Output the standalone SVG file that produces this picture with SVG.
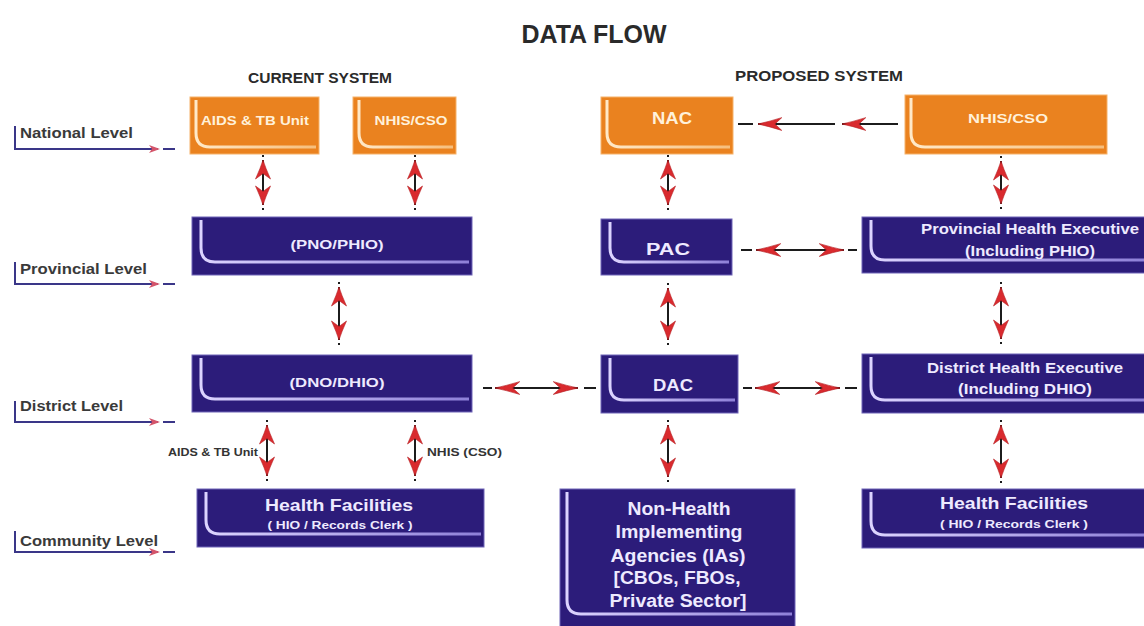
<svg xmlns="http://www.w3.org/2000/svg" xmlns:xlink="http://www.w3.org/1999/xlink" width="1144" height="626" viewBox="0 0 1144 626">
<defs>
<style>
text{font-family:"Liberation Sans",Arial,sans-serif;font-weight:bold}
.ttl{fill:#2a2a2a}
.lvl{fill:#3a3a3a;font-size:14px}
.clab{fill:#333;font-size:11px}
.or{fill:#EA821F;stroke:#F6B26A;stroke-width:1}
.nv{fill:#2C1C7A;stroke:#6F64B8;stroke-width:1}
.hlo{fill:none;stroke:url(#gO);stroke-width:3}
.hln{fill:none;stroke:url(#gN);stroke-width:3}
.to{fill:#FFF1DA;text-anchor:middle}
.tn{fill:#EEEAFF;text-anchor:middle}
.ln{stroke:#1c1c1c;stroke-width:2;fill:none}
.ah{fill:#D92A2E;stroke:#B51E22;stroke-width:0.6}
.br{fill:none;stroke:#3A3688;stroke-width:2}
.bra{fill:#D4546A}
</style>
<linearGradient id="gO" x1="0" y1="0" x2="1" y2="0">
<stop offset="0" stop-color="#FFE9C8"/>
<stop offset="1" stop-color="#F6BE7C"/>
</linearGradient>
<linearGradient id="gN" x1="0" y1="0" x2="1" y2="0">
<stop offset="0" stop-color="#DCD4FF"/>
<stop offset="1" stop-color="#8E80D8"/>
</linearGradient>
<path id="ah" d="M0,0 Q2.5,8 7.5,19 L0,13.5 L-7.5,19 Q-2.5,8 0,0 Z"/>
</defs>
<rect width="1144" height="626" fill="#ffffff"/>

<text class="ttl" x="594" y="43" font-size="25" text-anchor="middle" textLength="145" lengthAdjust="spacingAndGlyphs">DATA FLOW</text>
<text class="ttl" x="320" y="83" font-size="14" text-anchor="middle" textLength="144" lengthAdjust="spacingAndGlyphs">CURRENT SYSTEM</text>
<text class="ttl" x="819" y="81" font-size="14" text-anchor="middle" textLength="168" lengthAdjust="spacingAndGlyphs">PROPOSED SYSTEM</text>

<g id="levels">
<g id="lvl-national">
<path class="br" d="M15,126 V149 H158"/><path class="bra" d="M149,145 L160,149 L149,153 L152,149 Z"/><path class="br" d="M163,149 H175"/>
<text class="lvl" x="20" y="138" textLength="113" lengthAdjust="spacingAndGlyphs">National Level</text>
</g>
<g id="lvl-provincial">
<path class="br" d="M15,262 V284 H158"/><path class="bra" d="M149,280 L160,284 L149,288 L152,284 Z"/><path class="br" d="M163,284 H175"/>
<text class="lvl" x="20" y="274" textLength="127" lengthAdjust="spacingAndGlyphs">Provincial Level</text>
</g>
<g id="lvl-district">
<path class="br" d="M15,401 V422 H158"/><path class="bra" d="M149,418 L160,422 L149,426 L152,422 Z"/><path class="br" d="M163,422 H175"/>
<text class="lvl" x="20" y="411" textLength="103" lengthAdjust="spacingAndGlyphs">District Level</text>
</g>
<g id="lvl-community">
<path class="br" d="M15,531 V552 H158"/><path class="bra" d="M149,548 L160,552 L149,556 L152,552 Z"/><path class="br" d="M163,552 H175"/>
<text class="lvl" x="20" y="546" textLength="138" lengthAdjust="spacingAndGlyphs">Community Level</text>
</g>
</g>

<g id="connectors">
<!-- vertical -->
<line class="ln" x1="263" y1="155" x2="263" y2="210" stroke-dasharray="2 3 45 3 2"/>
<use href="#ah" class="ah" transform="translate(263,160)"/><use href="#ah" class="ah" transform="translate(263,205) rotate(180)"/>
<line class="ln" x1="415" y1="155" x2="415" y2="210" stroke-dasharray="2 3 45 3 2"/>
<use href="#ah" class="ah" transform="translate(415,160)"/><use href="#ah" class="ah" transform="translate(415,205) rotate(180)"/>
<line class="ln" x1="668" y1="155" x2="668" y2="210" stroke-dasharray="2 3 45 3 2"/>
<use href="#ah" class="ah" transform="translate(668,160)"/><use href="#ah" class="ah" transform="translate(668,205) rotate(180)"/>
<line class="ln" x1="1001" y1="156" x2="1001" y2="209" stroke-dasharray="2 3 43 3 2"/>
<use href="#ah" class="ah" transform="translate(1001,161)"/><use href="#ah" class="ah" transform="translate(1001,204) rotate(180)"/>

<line class="ln" x1="339" y1="282" x2="339" y2="345" stroke-dasharray="2 3 53 3 2"/>
<use href="#ah" class="ah" transform="translate(339,287)"/><use href="#ah" class="ah" transform="translate(339,340) rotate(180)"/>
<line class="ln" x1="668" y1="283" x2="668" y2="345" stroke-dasharray="2 3 52 3 2"/>
<use href="#ah" class="ah" transform="translate(668,288)"/><use href="#ah" class="ah" transform="translate(668,340) rotate(180)"/>
<line class="ln" x1="1001" y1="282" x2="1001" y2="344" stroke-dasharray="2 3 52 3 2"/>
<use href="#ah" class="ah" transform="translate(1001,287)"/><use href="#ah" class="ah" transform="translate(1001,339) rotate(180)"/>

<line class="ln" x1="267" y1="420" x2="267" y2="481" stroke-dasharray="2 3 51 3 2"/>
<use href="#ah" class="ah" transform="translate(267,425)"/><use href="#ah" class="ah" transform="translate(267,476) rotate(180)"/>
<line class="ln" x1="415" y1="420" x2="415" y2="481" stroke-dasharray="2 3 51 3 2"/>
<use href="#ah" class="ah" transform="translate(415,425)"/><use href="#ah" class="ah" transform="translate(415,476) rotate(180)"/>
<line class="ln" x1="668" y1="420" x2="668" y2="482" stroke-dasharray="2 3 52 3 2"/>
<use href="#ah" class="ah" transform="translate(668,425)"/><use href="#ah" class="ah" transform="translate(668,477) rotate(180)"/>
<line class="ln" x1="1001" y1="420" x2="1001" y2="483" stroke-dasharray="2 3 53 3 2"/>
<use href="#ah" class="ah" transform="translate(1001,425)"/><use href="#ah" class="ah" transform="translate(1001,478) rotate(180)"/>

<!-- horizontal -->
<path class="ln" d="M738,124 H753 M758,124 H835 M842,124 H898"/>
<use href="#ah" class="ah" transform="translate(758,124) rotate(-90) scale(0.85,1.25)"/>
<use href="#ah" class="ah" transform="translate(842,124) rotate(-90) scale(0.85,1.25)"/>

<path class="ln" d="M741,250 H752 M756,250 H844 M848,250 H857"/>
<use href="#ah" class="ah" transform="translate(756,250) rotate(-90) scale(0.85,1.3)"/>
<use href="#ah" class="ah" transform="translate(844,250) rotate(90) scale(0.85,1.3)"/>

<path class="ln" d="M483,388 H492 M495,388 H578 M584,388 H596"/>
<use href="#ah" class="ah" transform="translate(495,388) rotate(-90) scale(0.85,1.3)"/>
<use href="#ah" class="ah" transform="translate(578,388) rotate(90) scale(0.85,1.3)"/>

<path class="ln" d="M743,388 H752 M755,388 H840 M845,388 H857"/>
<use href="#ah" class="ah" transform="translate(755,388) rotate(-90) scale(0.85,1.3)"/>
<use href="#ah" class="ah" transform="translate(840,388) rotate(90) scale(0.85,1.3)"/>

<text class="clab" x="258" y="456" text-anchor="end" textLength="90" lengthAdjust="spacingAndGlyphs">AIDS &amp; TB Unit</text>
<text class="clab" x="427" y="456" textLength="75" lengthAdjust="spacingAndGlyphs">NHIS (CSO)</text>
</g>

<g id="node-aids">
<rect class="or" x="190" y="97" width="129" height="57"/>
<path class="hlo" d="M196,100 V133 Q196,147 210,147 H316"/>
<text class="to" x="255" y="125" font-size="13" textLength="108" lengthAdjust="spacingAndGlyphs">AIDS &amp; TB Unit</text>
</g>
<g id="node-nhis-current">
<rect class="or" x="353" y="97" width="103" height="57"/>
<path class="hlo" d="M359,100 V133 Q359,147 373,147 H453"/>
<text class="to" x="411" y="125" font-size="13" textLength="73" lengthAdjust="spacingAndGlyphs">NHIS/CSO</text>
</g>
<g id="node-nac">
<rect class="or" x="601" y="97" width="132" height="57"/>
<path class="hlo" d="M607,100 V133 Q607,147 621,147 H730"/>
<text class="to" x="672" y="124" font-size="16" textLength="40" lengthAdjust="spacingAndGlyphs">NAC</text>
</g>
<g id="node-nhis-proposed">
<rect class="or" x="905" y="95" width="202" height="59"/>
<path class="hlo" d="M911,98 V133 Q911,147 925,147 H1104"/>
<text class="to" x="1008" y="123" font-size="13" textLength="80" lengthAdjust="spacingAndGlyphs">NHIS/CSO</text>
</g>

<g id="node-pno">
<rect class="nv" x="192" y="217" width="280" height="58"/>
<path class="hln" d="M201,220 V248 Q201,262 215,262 H469"/>
<text class="tn" x="337" y="249" font-size="13" textLength="93" lengthAdjust="spacingAndGlyphs">(PNO/PHIO)</text>
</g>
<g id="node-pac">
<rect class="nv" x="601" y="219" width="131" height="56"/>
<path class="hln" d="M610,222 V248 Q610,262 624,262 H729"/>
<text class="tn" x="668" y="255" font-size="16" textLength="44" lengthAdjust="spacingAndGlyphs">PAC</text>
</g>
<g id="node-phe">
<rect class="nv" x="862" y="217" width="290" height="56"/>
<path class="hln" d="M871,220 V246 Q871,260 885,260 H1144"/>
<text class="tn" x="1030" y="234" font-size="14" textLength="218" lengthAdjust="spacingAndGlyphs">Provincial Health Executive</text>
<text class="tn" x="1030" y="256" font-size="14" textLength="130" lengthAdjust="spacingAndGlyphs">(Including PHIO)</text>
</g>

<g id="node-dno">
<rect class="nv" x="192" y="355" width="280" height="57"/>
<path class="hln" d="M201,358 V385 Q201,399 215,399 H469"/>
<text class="tn" x="337" y="387" font-size="13" textLength="95" lengthAdjust="spacingAndGlyphs">(DNO/DHIO)</text>
</g>
<g id="node-dac">
<rect class="nv" x="601" y="355" width="137" height="58"/>
<path class="hln" d="M610,358 V386 Q610,400 624,400 H735"/>
<text class="tn" x="673" y="391" font-size="16" textLength="40" lengthAdjust="spacingAndGlyphs">DAC</text>
</g>
<g id="node-dhe">
<rect class="nv" x="862" y="354" width="290" height="59"/>
<path class="hln" d="M871,357 V386 Q871,400 885,400 H1144"/>
<text class="tn" x="1025" y="373" font-size="14" textLength="196" lengthAdjust="spacingAndGlyphs">District Health Executive</text>
<text class="tn" x="1025" y="394" font-size="14" textLength="134" lengthAdjust="spacingAndGlyphs">(Including DHIO)</text>
</g>

<g id="node-hf-current">
<rect class="nv" x="197" y="489" width="287" height="58"/>
<path class="hln" d="M206,492 V520 Q206,534 220,534 H481"/>
<text class="tn" x="339" y="511" font-size="17" textLength="148" lengthAdjust="spacingAndGlyphs">Health Facilities</text>
<text class="tn" x="340" y="529" font-size="11" textLength="145" lengthAdjust="spacingAndGlyphs">( HIO / Records Clerk )</text>
</g>
<g id="node-non-health">
<rect class="nv" x="560" y="489" width="235" height="145"/>
<path class="hln" d="M567,492 V600 Q567,614 581,614 H792"/>
<text class="tn" x="679" y="515" font-size="18" textLength="103" lengthAdjust="spacingAndGlyphs">Non-Health</text>
<text class="tn" x="679" y="538" font-size="18" textLength="127" lengthAdjust="spacingAndGlyphs">Implementing</text>
<text class="tn" x="678" y="562" font-size="18" textLength="135" lengthAdjust="spacingAndGlyphs">Agencies (IAs)</text>
<text class="tn" x="677" y="584" font-size="18" textLength="127" lengthAdjust="spacingAndGlyphs">[CBOs, FBOs,</text>
<text class="tn" x="678" y="607" font-size="18" textLength="137" lengthAdjust="spacingAndGlyphs">Private Sector]</text>
</g>
<g id="node-hf-proposed">
<rect class="nv" x="862" y="489" width="290" height="59"/>
<path class="hln" d="M871,492 V521 Q871,535 885,535 H1144"/>
<text class="tn" x="1014" y="509" font-size="17" textLength="148" lengthAdjust="spacingAndGlyphs">Health Facilities</text>
<text class="tn" x="1014" y="528" font-size="11" textLength="148" lengthAdjust="spacingAndGlyphs">( HIO / Records Clerk )</text>
</g>
</svg>
